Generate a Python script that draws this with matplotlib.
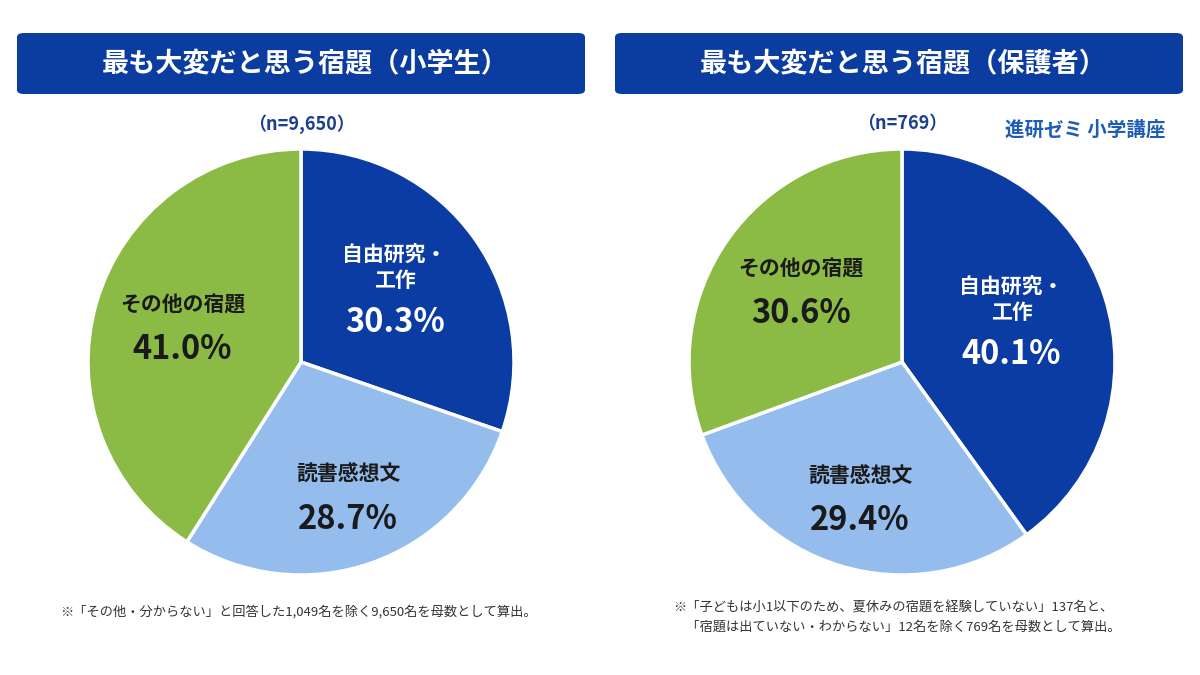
import matplotlib.pyplot as plt
from matplotlib.patches import FancyBboxPatch
import numpy as np

plt.rcParams['font.family'] = ['Noto Sans CJK JP', 'DejaVu Sans']

# data
categories = ['自由研究・\n工作', '読書感想文', 'その他の宿題']
student_vals = [30.3, 28.7, 41.0]
parent_vals = [40.1, 29.4, 30.6]
colors = ['#0a3ca4', '#94bdee', '#8bbb45']
text_colors = ['white', '#1a1a1a', '#1a1a1a']
label_r = [0.54, 0.67, 0.58]

titles = ['最も大変だと思う宿題（小学生）', '最も大変だと思う宿題（保護者）']
n_labels = ['（n=9,650）', '（n=769）']
notes = ['※「その他・分からない」と回答した1,049名を除く9,650名を母数として算出。',
         '※「子どもは小1以下のため、夏休みの宿題を経験していない」137名と、\n'
         '　「宿題は出ていない・わからない」12名を除く769名を母数として算出。']

W, H = 1200, 675
fig = plt.figure(figsize=(12, 6.75), dpi=100)
fig.patch.set_facecolor('white')

def draw_pie(cx, cy, R, vals):
    ax = fig.add_axes([(cx - R) / W, (H - cy - R) / H, 2 * R / W, 2 * R / H])
    wedges, _ = ax.pie(vals, colors=colors, startangle=90, counterclock=False,
                       wedgeprops=dict(edgecolor='white', linewidth=2.5))
    ax.set_xlim(-1, 1)
    ax.set_ylim(-1, 1)
    ax.set_aspect('equal')
    ax.axis('off')
    for i, w in enumerate(wedges):
        ang = np.deg2rad((w.theta1 + w.theta2) / 2)
        x = label_r[i] * np.cos(ang)
        y = label_r[i] * np.sin(ang)
        off = 0.13 if '\n' in categories[i] else 0.105
        ax.text(x, y + off, categories[i], ha='center', va='center',
                fontsize=15, fontweight='bold', color=text_colors[i], linespacing=1.3)
        ax.text(x, y - off, f'{vals[i]:.1f}%', ha='center', va='center',
                fontsize=23.5, fontweight='bold', color=text_colors[i])
    return ax

ax1 = draw_pie(301, 362, 213, student_vals)
ax2 = draw_pie(902, 362, 213, parent_vals)

# header boxes
for x0, t in zip([17, 615], titles):
    box = FancyBboxPatch((x0 / W, 1 - 94 / H), 568 / W, 61 / H,
                         boxstyle='round,pad=0,rounding_size=0.006',
                         transform=fig.transFigure, facecolor='#0b3c9f',
                         edgecolor='none')
    fig.patches.append(box)
    fig.text((x0 + 288) / W, 1 - 64 / H, t, ha='center', va='center',
             fontsize=19.5, fontweight='bold', color='white')

fig.text(301 / W, 1 - 124 / H, n_labels[0], ha='center', va='center',
         fontsize=13, fontweight='bold', color='#1d3f8f')
fig.text(902 / W, 1 - 124 / H, n_labels[1], ha='center', va='center',
         fontsize=13, fontweight='bold', color='#1d3f8f')
fig.text(1085 / W, 1 - 130 / H, '進研ゼミ 小学講座', ha='center', va='center',
         fontsize=14, fontweight='bold', color='#1f5cb4')

fig.text(60 / W, 1 - 612 / H, notes[0], ha='left', va='center',
         fontsize=9.5, color='#333333')
fig.text(673 / W, 1 - 618 / H, notes[1], ha='left', va='center',
         fontsize=9.5, color='#333333', linespacing=1.6)

fig.savefig('out.png', dpi=100, facecolor='white')
